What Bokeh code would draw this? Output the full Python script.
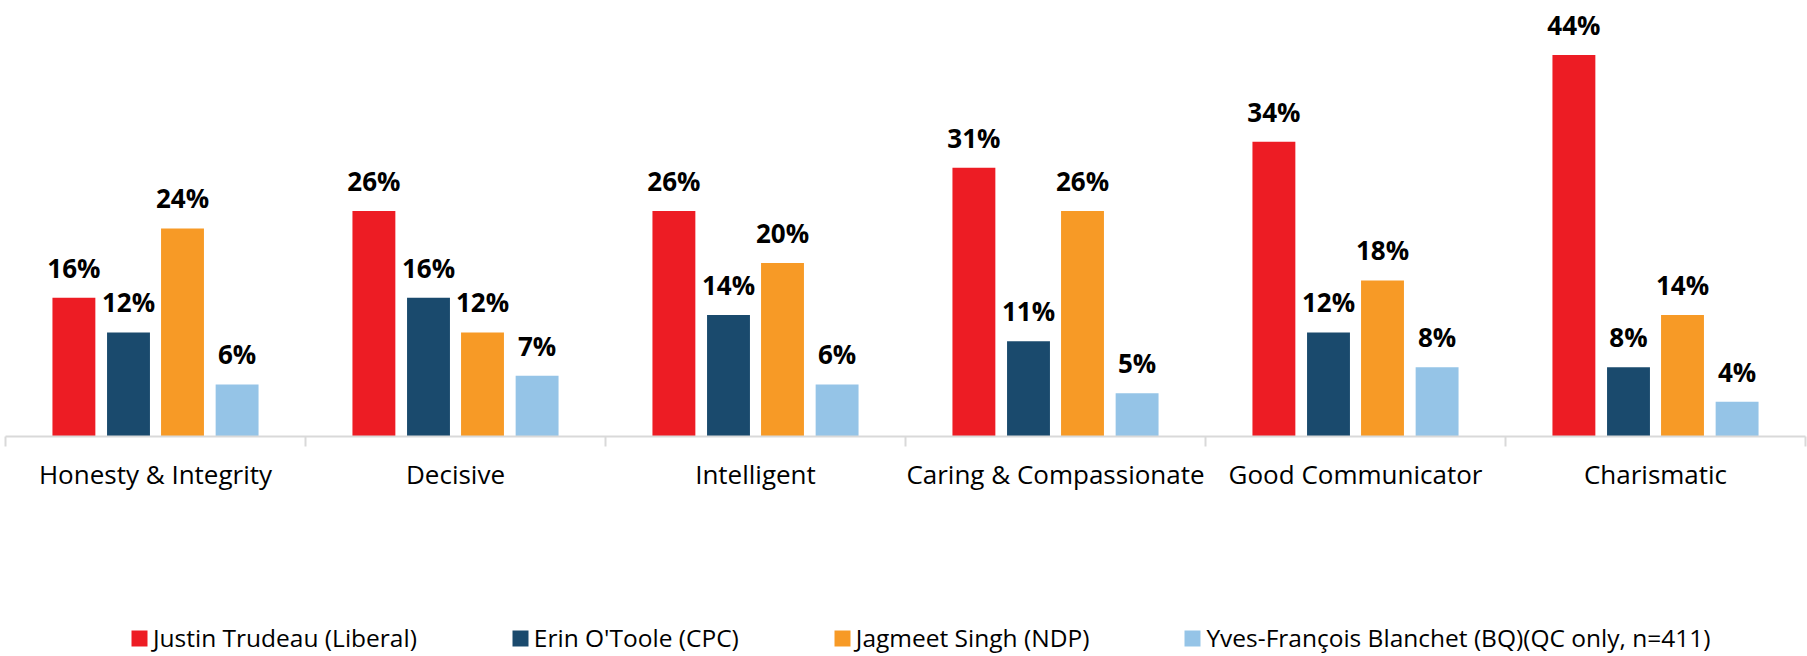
from bokeh.plotting import figure
from bokeh.layouts import column
from bokeh.models import (ColumnDataSource, Range1d, FixedTicker, Legend, LegendItem)
from bokeh.transform import dodge
from bokeh.core.properties import value
from bokeh.embed import file_html
from bokeh.resources import INLINE

categories = ["Honesty & Integrity", "Decisive", "Intelligent",
              "Caring & Compassionate", "Good Communicator", "Charismatic"]
series_names = ["Justin Trudeau (Liberal)", "Erin O'Toole (CPC)",
                "Jagmeet Singh (NDP)", "Yves-François Blanchet (BQ)(QC only, n=411)"]
trudeau = [16, 26, 26, 31, 34, 44]
otoole = [12, 16, 14, 11, 12, 8]
singh = [24, 12, 20, 26, 18, 14]
blanchet = [6, 7, 6, 5, 8, 4]
colors = ["#ED1C24", "#1A4A6D", "#F79A26", "#95C4E7"]

series = [trudeau, otoole, singh, blanchet]
x_centers = [i + 0.5 for i in range(len(categories))]

p = figure(width=1807, height=510, output_backend="svg", toolbar_location=None,
           x_range=Range1d(0, 6), y_range=Range1d(0, 50.29),
           y_axis_location=None, min_border_left=5, min_border_right=2,
           min_border_top=0, min_border_bottom=74)
p.outline_line_color = None
p.grid.visible = False
p.background_fill_color = "white"
p.border_fill_color = "white"

offsets = [-0.272, -0.09, 0.09, 0.272]
bar_w = 0.143
for vals, col, off in zip(series, colors, offsets):
    src = ColumnDataSource(dict(x=x_centers, top=vals,
                                lab=[f"{v}%" for v in vals]))
    p.vbar(x=dodge("x", off, range=p.x_range), top="top", width=bar_w,
           bottom=0, source=src, fill_color=col, line_color=None)
    p.text(x=dodge("x", off, range=p.x_range), y="top", text="lab", source=src,
           text_font=value("Open Sans"), text_font_style="bold",
           text_font_size="26px", text_color="#000000",
           text_align="center", text_baseline="middle", y_offset=-30)

# axis: labels at category centres, boundary minor ticks
ax = p.xaxis[0]
ax.ticker = FixedTicker(ticks=x_centers, minor_ticks=list(range(len(categories) + 1)))
ax.major_label_overrides = {pos: name for pos, name in zip(x_centers, categories)}
ax.major_tick_line_color = None
ax.major_tick_out = 0
ax.major_tick_in = 0
ax.minor_tick_line_color = "#d9d9d9"
ax.minor_tick_line_width = 2
ax.minor_tick_out = 10
ax.minor_tick_in = 0
ax.axis_line_color = "#d9d9d9"
ax.axis_line_width = 2
ax.major_label_text_font = "Open Sans"
ax.major_label_text_font_size = "26px"
ax.major_label_text_color = "#000000"
ax.major_label_standoff = 9

# legend strip
p2 = figure(width=1807, height=146, output_backend="svg", toolbar_location=None,
            x_range=Range1d(0, 1), y_range=Range1d(0, 1),
            x_axis_location=None, y_axis_location=None,
            min_border_left=0, min_border_right=0, min_border_top=0, min_border_bottom=0)
p2.outline_line_color = None
p2.grid.visible = False
p2.border_fill_color = "white"
items = []
for name, col in zip(series_names, colors):
    r = p2.vbar(x=[0], top=[0], bottom=[0], width=0, fill_color=col, line_color=None)
    items.append(LegendItem(label=name, renderers=[r]))
lg = Legend(items=items, location=(124, 2), orientation="horizontal",
            padding=0, margin=0, spacing=93, border_line_color=None,
            background_fill_alpha=0, glyph_width=20, glyph_height=20,
            label_standoff=4, label_text_font="Open Sans",
            label_text_font_size="24.5px", label_text_color="#000000",
            label_height=20)
p2.add_layout(lg, "center")

layout = column(p, p2, spacing=0)
open("out.html", "w").write(file_html(layout, INLINE))
